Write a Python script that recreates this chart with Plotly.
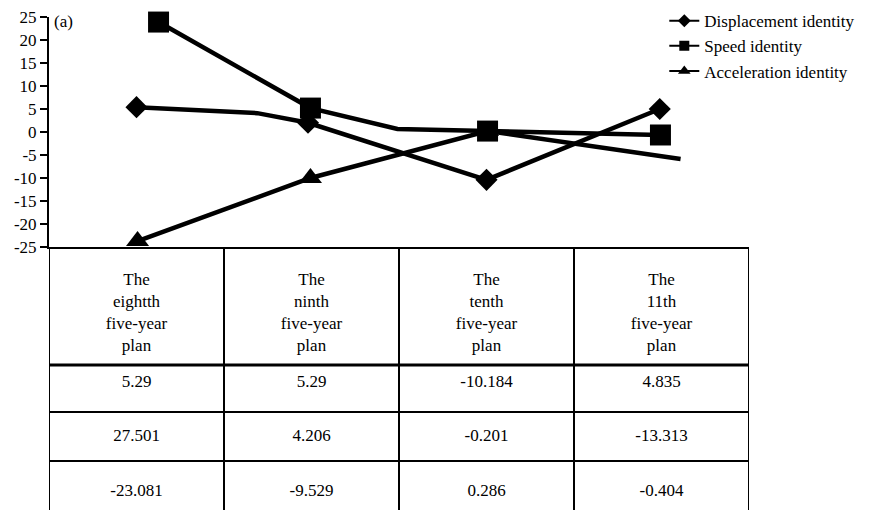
import plotly.graph_objects as go

# ---------------- data ----------------
categories = [
    "The<br>eightth<br>five-year<br>plan",
    "The<br>ninth<br>five-year<br>plan",
    "The<br>tenth<br>five-year<br>plan",
    "The<br>11th<br>five-year<br>plan",
]
series_names = ["Displacement identity", "Speed identity", "Acceleration identity"]

table_displacement = ["5.29", "5.29", "-10.184", "4.835"]
table_speed = ["27.501", "4.206", "-0.201", "-13.313"]
table_acceleration = ["-23.081", "-9.529", "0.286", "-0.404"]

# polylines as drawn in the picture (x in category units, 0 = first plan)
disp_x = [0.0, 0.69, 0.98, 2.0, 2.99]
disp_y = [5.4, 4.1, 2.0, -10.4, 5.0]
disp_marked = [True, False, True, True, True]

speed_x = [0.126, 0.994, 1.491, 2.006, 2.994]
speed_y = [23.9, 5.2, 0.65, 0.2, -0.65]
speed_marked = [True, True, False, True, True]

accel_x = [0.006, 0.994, 2.006, 3.109]
accel_y = [-23.7, -10.0, 0.2, -5.87]
accel_marked = [True, True, True, False]

y_ticks = [25, 20, 15, 10, 5, 0, -5, -10, -15, -20, -25]
panel_label = "(a)"

# ---------------- layout constants ----------------
FONT = "Liberation Serif"
W, H = 880, 510
M_L, M_R, M_T, M_B = 49, 131, 17, 0
plot_h = H - M_T - M_B
chart_px = 230
table_px = plot_h - chart_px
split = table_px / plot_h

header_h = 118
row_h = [47, 49, 49]
text_y_header = 67
text_y_rows = [136, 190, 245]

fig = go.Figure()

def add_series(xs, ys, marked, symbol, size, name):
    fig.add_trace(go.Scatter(
        x=xs, y=ys, mode="lines", line=dict(color="black", width=4.5),
        showlegend=False, hoverinfo="skip", cliponaxis=False))
    mx = [x for x, m in zip(xs, marked) if m]
    my = [y for y, m in zip(ys, marked) if m]
    fig.add_trace(go.Scatter(
        x=mx, y=my, mode="markers",
        marker=dict(symbol=symbol, size=size, color="black"),
        showlegend=False, cliponaxis=False, name=name))

# draw order: acceleration, displacement, speed (squares on top)
add_series(accel_x, accel_y, accel_marked, "triangle-up", 20, series_names[2])
add_series(disp_x, disp_y, disp_marked, "diamond", 17, series_names[0])
add_series(speed_x, speed_y, speed_marked, "square", 21, series_names[1])

# legend entries
for name, sym, sz in zip(series_names, ["diamond", "square", "triangle-up"], [10, 10, 11]):
    fig.add_trace(go.Scatter(
        x=[None], y=[None], mode="lines+markers", name=name,
        line=dict(color="black", width=2),
        marker=dict(symbol=sym, size=sz, color="black")))

# table text
ncol = len(categories)
fig.add_trace(go.Scatter(
    x=list(range(ncol)), y=[text_y_header] * ncol, text=categories,
    mode="text", textfont=dict(family=FONT, size=17, color="black"),
    xaxis="x", yaxis="y2", showlegend=False, hoverinfo="skip"))
for row, ty in zip([table_displacement, table_speed, table_acceleration], text_y_rows):
    fig.add_trace(go.Scatter(
        x=list(range(ncol)), y=[ty] * ncol, text=row,
        mode="text", textfont=dict(family=FONT, size=17, color="black"),
        xaxis="x", yaxis="y2", showlegend=False, hoverinfo="skip"))

# table grid
for b in [i - 0.5 for i in range(ncol + 1)]:
    fig.add_shape(type="line", xref="x", yref="y2", x0=b, x1=b, y0=0, y1=table_px,
                  line=dict(color="black", width=2))
yb = header_h
for i, rh in enumerate(row_h):
    fig.add_shape(type="line", xref="x", yref="y2", x0=-0.5, x1=ncol - 0.5, y0=yb, y1=yb,
                  line=dict(color="black", width=3 if i == 0 else 2))
    yb += rh

fig.add_annotation(text=panel_label, xref="paper", yref="paper", x=0.004, y=0.99,
                   xanchor="left", yanchor="middle", showarrow=False,
                   font=dict(family=FONT, size=17, color="black"))

fig.update_layout(
    width=W, height=H,
    margin=dict(l=M_L, r=M_R, t=M_T, b=M_B, autoexpand=False),
    paper_bgcolor="white", plot_bgcolor="white",
    font=dict(family=FONT, size=17, color="black"),
    hovermode=False,
    xaxis=dict(range=[-0.5, ncol - 0.5], domain=[0, 1], showgrid=False, zeroline=False,
               showticklabels=False, ticks="", showline=True, linecolor="black",
               linewidth=2, anchor="y"),
    yaxis=dict(range=[-25, 25], domain=[split, 1], tickvals=y_ticks,
               ticktext=[str(v) for v in y_ticks], ticks="outside", ticklen=7,
               tickwidth=2, tickcolor="black", showline=True, linecolor="black",
               linewidth=2, showgrid=False, zeroline=False,
               tickfont=dict(family=FONT, size=17, color="black")),
    yaxis2=dict(range=[table_px, 0], domain=[0, split], visible=False, anchor="x"),
    legend=dict(x=0.879, y=1.028, xanchor="left", yanchor="top",
                font=dict(family=FONT, size=17, color="black"),
                bgcolor="rgba(0,0,0,0)", tracegroupgap=0),
    showlegend=True,
)

fig.write_html("out.html",
               config={"displayModeBar": False},
               post_script="document.body.style.margin='0px';document.body.style.overflow='hidden';")
